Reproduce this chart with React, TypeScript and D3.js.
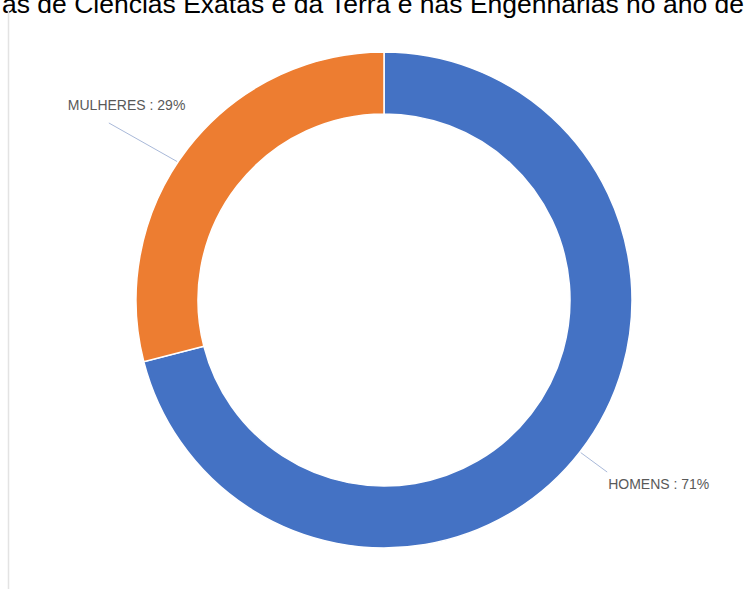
import React from "react";
import * as d3 from "d3";

const categories = ["HOMENS", "MULHERES"];
const values = [71, 29];
const colors = ["#4472C4", "#ED7D31"];
const titleText = "as de Ciências Exatas e da Terra e nas Engenharias no ano de";

const W = 746;
const H = 589;
const cx = 384;
const cy = 300;
const outerR = 248;
const innerR = 186;
const labelR = 328;

export default function App() {
  const data = categories.map((c, i) => ({ name: c, value: values[i], color: colors[i] }));
  const pie = d3.pie<any>().sort(null).value((d: any) => d.value);
  const arcs = pie(data);
  const arc = d3.arc<any>().innerRadius(innerR).outerRadius(outerR);
  const pt = (r: number, a: number) => [r * Math.sin(a), -r * Math.cos(a)];

  return (
    <svg
      width={W}
      height={H}
      style={{ position: "absolute", left: 0, top: 0, background: "#fff" }}
    >
      <rect width={W} height={H} fill="#fff" />
      <text x={2} y={13} fontFamily="'Liberation Sans', Arial, sans-serif" fontSize={26.5} fill="#000">
        {titleText}
      </text>
      <line x1={8.5} y1={10} x2={8.5} y2={H} stroke="#e3e3e3" strokeWidth={1.5} />
      <g transform={`translate(${cx},${cy})`}>
        {arcs.map((a, i) => (
          <path key={i} d={arc(a) as string} fill={a.data.color} stroke="#fff" strokeWidth={1.5} />
        ))}
        {arcs.map((a, i) => {
          const mid = (a.startAngle + a.endAngle) / 2;
          const [lx, ly] = pt(labelR, mid);
          const right = lx > 0;
          const [sx, sy] = pt(outerR + 1, mid + (right ? 0 : -0.07));
          const ex = right ? lx - 36 : lx - 16;
          const ey = right ? ly - 29 : ly + 24;
          const tx = right ? lx - 35 : lx - 57;
          const ty = right ? ly - 12 : ly + 11;
          return (
            <g key={"l" + i}>
              <line x1={sx} y1={sy} x2={ex} y2={ey} stroke="#a9b9d9" strokeWidth={1} />
              <text
                x={tx}
                y={ty}
                fontFamily="'Liberation Sans', Arial, sans-serif"
                fontSize={14}
                fill="#595959"
              >
                {`${a.data.name} : ${a.data.value}%`}
              </text>
            </g>
          );
        })}
      </g>
    </svg>
  );
}
